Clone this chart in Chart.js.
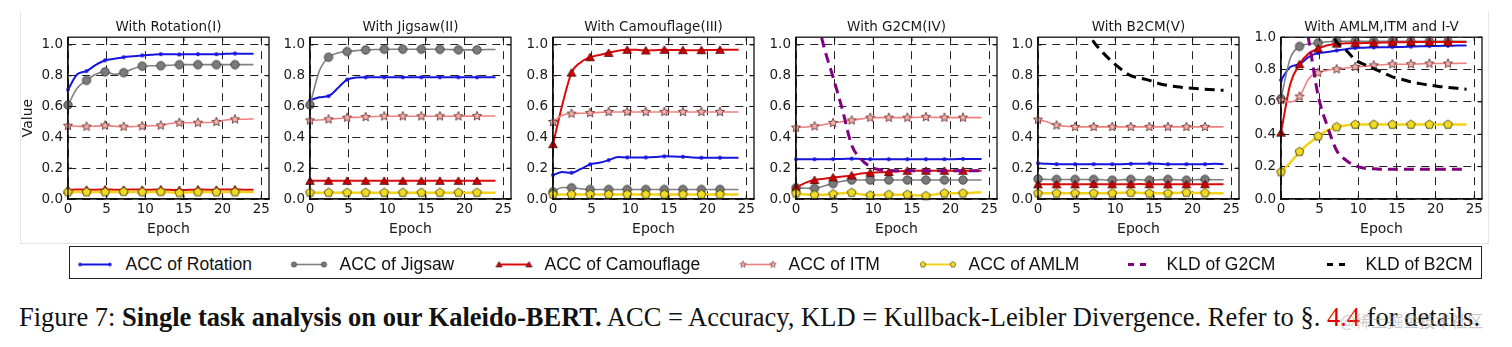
<!DOCTYPE html>
<html>
<head>
<meta charset="utf-8">
<script src="https://cdn.jsdelivr.net/npm/chart.js@4.4.0/dist/chart.umd.min.js"></script>
<style>
  html, body { margin: 0; padding: 0; background: #fff; }
  body { width: 1512px; height: 347px; position: relative; overflow: hidden; }
  .panel { position: absolute; top: 0; width: 297px; height: 240px; }
  #frame { position: absolute; left: 20px; top: 12px; width: 1467px; height: 231px;
           border-left: 1px solid #e6e6e6; border-right: 1px solid #e6e6e6; border-bottom: 1px solid #e6e6e6; }
  #legend { position: absolute; left: 69px; top: 246px; width: 1411px; height: 31px; border: 1.5px solid #222; }
  .lg-mark { position: absolute; top: 0; }
  .lg-text { position: absolute; top: 0; font: 17.5px "Liberation Sans", Arial, sans-serif; line-height: 35px; color: #111; white-space: nowrap; }
  #caption { position: absolute; left: 19px; top: 301px; font: 26.5px "Liberation Serif", "Times New Roman", serif; line-height: 32px; color: #111; white-space: nowrap; }
  #caption .ref { color: #e00000; }
  #mark { position: absolute; left: 1340px; top: 308px; font: 16px "Noto Sans CJK SC", sans-serif; line-height: 24px; color: rgba(160,160,160,0.55); white-space: nowrap; }
</style>
</head>
<body>
<div id="frame"></div>
<canvas id="c1" class="panel" width="297" height="240"></canvas>
<canvas id="c2" class="panel" width="297" height="240"></canvas>
<canvas id="c3" class="panel" width="297" height="240"></canvas>
<canvas id="c4" class="panel" width="297" height="240"></canvas>
<canvas id="c5" class="panel" width="297" height="240"></canvas>
<canvas id="c6" class="panel" width="297" height="240"></canvas>
<div id="legend"></div>
<div id="caption">Figure 7: <b>Single task analysis on our Kaleido-BERT.</b> ACC = Accuracy, KLD = Kullback-Leibler Divergence. Refer to §. <span class="ref">4.4</span> for details.</div>
<div id="mark">@稀土掘金技术社区</div>

<script>
const epochs = [0, 1.2, 2.4, 3.6, 4.8, 6, 7.2, 8.4, 9.6, 10.8, 12, 13.2, 14.4, 15.6, 16.8, 18, 19.2, 20.4, 21.6, 22.8, 24];
const xTicks = [0, 5, 10, 15, 20, 25];
const yTicks = [0, 0.2, 0.4, 0.6, 0.8, 1.0];

const titles = ['With Rotation(I)', 'With Jigsaw(II)', 'With Camouflage(III)', 'With G2CM(IV)', 'With B2CM(V)', 'With AMLM,ITM and I-V'];
const yMaxes = [1.05, 1.05, 1.05, 1.05, 1.05, 1.0];

// (I) Rotation
const p1Rotation   = [0.71, 0.81, 0.83, 0.87, 0.90, 0.91, 0.92, 0.926, 0.932, 0.936, 0.94, 0.94, 0.938, 0.94, 0.94, 0.94, 0.94, 0.942, 0.944, 0.942, 0.942];
const p1Jigsaw     = [0.61, 0.72, 0.77, 0.81, 0.825, 0.81, 0.82, 0.845, 0.862, 0.865, 0.865, 0.868, 0.872, 0.872, 0.872, 0.872, 0.872, 0.872, 0.872, 0.872, 0.872];
const p1Camouflage = [0.06, 0.062, 0.06, 0.06, 0.062, 0.06, 0.06, 0.062, 0.06, 0.06, 0.062, 0.06, 0.058, 0.06, 0.062, 0.06, 0.06, 0.062, 0.062, 0.06, 0.06];
const p1ITM        = [0.475, 0.472, 0.47, 0.473, 0.477, 0.472, 0.469, 0.47, 0.472, 0.475, 0.477, 0.49, 0.495, 0.495, 0.495, 0.496, 0.5, 0.513, 0.517, 0.518, 0.52];
const p1AMLM       = [0.045, 0.045, 0.045, 0.045, 0.045, 0.045, 0.047, 0.046, 0.045, 0.045, 0.047, 0.043, 0.04, 0.043, 0.045, 0.045, 0.045, 0.045, 0.045, 0.045, 0.045];

// (II) Jigsaw
const p2Rotation   = [0.64, 0.66, 0.668, 0.72, 0.775, 0.788, 0.79, 0.79, 0.79, 0.79, 0.79, 0.79, 0.79, 0.79, 0.79, 0.79, 0.79, 0.79, 0.79, 0.79, 0.79];
const p2Jigsaw     = [0.61, 0.83, 0.92, 0.948, 0.957, 0.963, 0.967, 0.97, 0.972, 0.972, 0.972, 0.972, 0.972, 0.972, 0.971, 0.97, 0.968, 0.968, 0.968, 0.97, 0.97];
const p2Camouflage = [0.118, 0.118, 0.118, 0.118, 0.118, 0.118, 0.118, 0.118, 0.118, 0.118, 0.118, 0.118, 0.118, 0.118, 0.118, 0.118, 0.118, 0.118, 0.118, 0.118, 0.118];
const p2ITM        = [0.51, 0.513, 0.517, 0.522, 0.528, 0.53, 0.532, 0.535, 0.537, 0.537, 0.537, 0.537, 0.537, 0.537, 0.537, 0.537, 0.537, 0.538, 0.538, 0.539, 0.539];
const p2AMLM       = [0.041, 0.041, 0.041, 0.041, 0.041, 0.041, 0.041, 0.041, 0.041, 0.041, 0.041, 0.041, 0.041, 0.041, 0.041, 0.041, 0.041, 0.041, 0.041, 0.041, 0.041];

// (III) Camouflage
const p3Rotation   = [0.155, 0.175, 0.17, 0.195, 0.225, 0.235, 0.252, 0.272, 0.27, 0.27, 0.27, 0.272, 0.277, 0.276, 0.274, 0.27, 0.268, 0.268, 0.268, 0.267, 0.267];
const p3Jigsaw     = [0.047, 0.075, 0.073, 0.066, 0.062, 0.062, 0.062, 0.062, 0.062, 0.062, 0.062, 0.062, 0.062, 0.062, 0.062, 0.062, 0.062, 0.062, 0.062, 0.062, 0.062];
const p3Camouflage = [0.356, 0.61, 0.82, 0.888, 0.92, 0.935, 0.948, 0.962, 0.968, 0.968, 0.964, 0.966, 0.968, 0.967, 0.966, 0.966, 0.966, 0.967, 0.968, 0.968, 0.968];
const p3ITM        = [0.50, 0.543, 0.554, 0.556, 0.558, 0.562, 0.565, 0.565, 0.565, 0.565, 0.565, 0.565, 0.565, 0.565, 0.565, 0.565, 0.565, 0.565, 0.565, 0.565, 0.565];
const p3AMLM       = [0.03, 0.03, 0.03, 0.03, 0.03, 0.03, 0.03, 0.03, 0.03, 0.03, 0.03, 0.03, 0.03, 0.03, 0.03, 0.03, 0.03, 0.03, 0.03, 0.03, 0.03];

// (IV) G2CM
const p4Rotation   = [0.258, 0.258, 0.258, 0.258, 0.259, 0.26, 0.262, 0.26, 0.258, 0.258, 0.258, 0.258, 0.258, 0.258, 0.258, 0.258, 0.258, 0.258, 0.26, 0.26, 0.26];
const p4Jigsaw     = [0.073, 0.07, 0.069, 0.085, 0.10, 0.115, 0.123, 0.123, 0.123, 0.123, 0.123, 0.123, 0.123, 0.123, 0.123, 0.123, 0.123, 0.123, 0.123, 0.123, 0.123];
const p4Camouflage = [0.075, 0.105, 0.123, 0.132, 0.14, 0.146, 0.153, 0.166, 0.17, 0.173, 0.175, 0.18, 0.183, 0.183, 0.183, 0.183, 0.183, 0.183, 0.183, 0.183, 0.183];
const p4ITM        = [0.463, 0.467, 0.472, 0.483, 0.494, 0.502, 0.51, 0.52, 0.528, 0.528, 0.528, 0.528, 0.528, 0.53, 0.532, 0.53, 0.528, 0.528, 0.528, 0.528, 0.528];
const p4AMLM       = [0.037, 0.03, 0.026, 0.028, 0.032, 0.037, 0.041, 0.03, 0.024, 0.026, 0.028, 0.028, 0.028, 0.024, 0.02, 0.03, 0.037, 0.037, 0.037, 0.04, 0.043];
const p4KldG2CM    = [null, null, 1.25, 0.99, 0.79, 0.58, 0.35, 0.26, 0.21, 0.19, 0.185, 0.183, 0.183, 0.183, 0.183, 0.183, 0.183, 0.183, 0.183, 0.183, 0.183];

// (V) B2CM
const p5Rotation   = [0.232, 0.228, 0.226, 0.226, 0.226, 0.226, 0.226, 0.226, 0.226, 0.226, 0.228, 0.228, 0.23, 0.228, 0.226, 0.226, 0.226, 0.226, 0.226, 0.228, 0.226];
const p5Jigsaw     = [0.13, 0.127, 0.127, 0.127, 0.127, 0.127, 0.127, 0.125, 0.122, 0.125, 0.127, 0.125, 0.122, 0.125, 0.127, 0.125, 0.122, 0.125, 0.127, 0.125, 0.125];
const p5Camouflage = [0.095, 0.095, 0.095, 0.095, 0.095, 0.096, 0.097, 0.096, 0.095, 0.095, 0.096, 0.097, 0.096, 0.095, 0.095, 0.095, 0.095, 0.095, 0.096, 0.095, 0.095];
const p5ITM        = [0.515, 0.50, 0.478, 0.472, 0.468, 0.468, 0.468, 0.468, 0.468, 0.468, 0.468, 0.468, 0.468, 0.468, 0.468, 0.468, 0.468, 0.468, 0.468, 0.468, 0.468];
const p5AMLM       = [0.037, 0.037, 0.037, 0.037, 0.037, 0.037, 0.037, 0.037, 0.037, 0.04, 0.041, 0.039, 0.037, 0.037, 0.037, 0.039, 0.041, 0.039, 0.039, 0.037, 0.037];
const p5KldB2CM    = [null, null, null, null, null, 1.12, 1.02, 0.95, 0.89, 0.84, 0.80, 0.785, 0.77, 0.75, 0.737, 0.728, 0.722, 0.717, 0.713, 0.709, 0.705];

// (VI) AMLM, ITM and I-V
const p6Rotation   = [0.735, 0.816, 0.833, 0.878, 0.902, 0.908, 0.918, 0.926, 0.933, 0.935, 0.937, 0.938, 0.939, 0.94, 0.942, 0.944, 0.945, 0.946, 0.947, 0.948, 0.949];
const p6Jigsaw     = [0.62, 0.87, 0.943, 0.958, 0.965, 0.972, 0.975, 0.975, 0.975, 0.975, 0.975, 0.975, 0.975, 0.975, 0.975, 0.975, 0.975, 0.975, 0.975, 0.975, 0.975];
const p6Camouflage = [0.41, 0.71, 0.833, 0.9, 0.93, 0.95, 0.96, 0.962, 0.963, 0.964, 0.965, 0.967, 0.968, 0.969, 0.97, 0.97, 0.97, 0.97, 0.97, 0.97, 0.97];
const p6ITM        = [0.612, 0.60, 0.633, 0.745, 0.78, 0.796, 0.802, 0.81, 0.816, 0.82, 0.826, 0.83, 0.833, 0.833, 0.833, 0.835, 0.837, 0.837, 0.837, 0.838, 0.84];
const p6AMLM       = [0.167, 0.225, 0.292, 0.343, 0.388, 0.424, 0.445, 0.455, 0.46, 0.46, 0.46, 0.46, 0.46, 0.46, 0.46, 0.46, 0.46, 0.46, 0.46, 0.46, 0.46];
const p6KldG2CM    = [null, null, 1.3, 0.98, 0.64, 0.45, 0.30, 0.24, 0.205, 0.19, 0.187, 0.184, 0.184, 0.184, 0.184, 0.184, 0.184, 0.184, 0.184, 0.184, 0.184];
const p6KldB2CM    = [null, null, null, null, null, 1.08, 0.97, 0.92, 0.86, 0.83, 0.806, 0.78, 0.755, 0.74, 0.724, 0.713, 0.704, 0.696, 0.69, 0.684, 0.678];

// ---- marker glyphs (matplotlib-ish) ----
function makeMarker(kind, r, fill, stroke, lw) {
  const s = Math.ceil(2 * r + 2 * lw + 2);
  const c = document.createElement('canvas');
  c.width = s; c.height = s;
  const g = c.getContext('2d');
  const cx = s / 2, cy = s / 2;
  g.beginPath();
  if (kind === 'circle') {
    g.arc(cx, cy, r, 0, Math.PI * 2);
  } else {
    const n = kind === 'star' ? 10 : kind === 'pentagon' ? 5 : 3;
    for (let i = 0; i < n; i++) {
      const a = -Math.PI / 2 + i * 2 * Math.PI / n;
      const rr = (kind === 'star' && i % 2) ? r * 0.45 : r;
      g.lineTo(cx + rr * Math.cos(a), cy + rr * Math.sin(a) + (kind === 'triangle' ? r * 0.2 : 0));
    }
    g.closePath();
  }
  g.fillStyle = fill; g.fill();
  if (lw) { g.lineWidth = lw; g.strokeStyle = stroke; g.stroke(); }
  return c;
}

const STYLE = {
  rot: { label: 'ACC of Rotation',   color: '#1515dd', width: 2,   img: makeMarker('circle', 1.9, '#1515dd', '#1515dd', 0),   lg: makeMarker('circle', 1.8, '#1515dd', '#1515dd', 0) },
  jig: { label: 'ACC of Jigsaw',     color: '#808080', width: 1.6, img: makeMarker('circle', 4.2, '#7b7b7b', '#333', 0.8),     lg: makeMarker('circle', 2.6, '#7b7b7b', '#333', 0.7) },
  cam: { label: 'ACC of Camouflage', color: '#dd0a0a', width: 2,   img: makeMarker('triangle', 5, '#d00000', '#4a0000', 0.8),  lg: makeMarker('triangle', 3.6, '#c01020', '#4a0000', 0.6) },
  itm: { label: 'ACC of ITM',        color: '#f08080', width: 1.6, img: makeMarker('star', 4.8, '#f3b2ac', '#5a2525', 0.8),    lg: makeMarker('star', 3.4, '#f3b2ac', '#5a2525', 0.6) },
  aml: { label: 'ACC of AMLM',       color: '#f2d21a', width: 2.5, img: makeMarker('pentagon', 4.6, '#f0dc22', '#3a3000', 0.8), lg: makeMarker('pentagon', 3, '#f0dc22', '#3a3000', 0.6) },
  g2c: { label: 'KLD of G2CM',       color: '#800080', width: 3,   dash: [10, 6] },
  b2c: { label: 'KLD of B2CM',       color: '#000000', width: 3,   dash: [10, 6] },
};
const ORDER = ['rot', 'jig', 'cam', 'itm', 'aml', 'g2c', 'b2c'];

const panelSeries = [
  { rot: p1Rotation, jig: p1Jigsaw, cam: p1Camouflage, itm: p1ITM, aml: p1AMLM },
  { rot: p2Rotation, jig: p2Jigsaw, cam: p2Camouflage, itm: p2ITM, aml: p2AMLM },
  { rot: p3Rotation, jig: p3Jigsaw, cam: p3Camouflage, itm: p3ITM, aml: p3AMLM },
  { rot: p4Rotation, jig: p4Jigsaw, cam: p4Camouflage, itm: p4ITM, aml: p4AMLM, g2c: p4KldG2CM },
  { rot: p5Rotation, jig: p5Jigsaw, cam: p5Camouflage, itm: p5ITM, aml: p5AMLM, b2c: p5KldB2CM },
  { rot: p6Rotation, jig: p6Jigsaw, cam: p6Camouflage, itm: p6ITM, aml: p6AMLM, g2c: p6KldG2CM, b2c: p6KldB2CM },
];

// layout
const plotLefts = [68, 310, 553, 796, 1038, 1281];
const AXW = 48;

// box + inward ticks on all sides, drawn over the lines like matplotlib spines
const framePlugin = {
  id: 'frame',
  afterDatasetsDraw(chart) {
    const { ctx, chartArea: a, scales } = chart;
    ctx.save();
    ctx.strokeStyle = '#111';
    ctx.lineWidth = 1;
    ctx.beginPath();
    xTicks.forEach(v => {
      const x = scales.x.getPixelForValue(v);
      ctx.moveTo(x, a.bottom); ctx.lineTo(x, a.bottom - 4);
      ctx.moveTo(x, a.top); ctx.lineTo(x, a.top + 4);
    });
    yTicks.forEach(v => {
      const y = scales.y.getPixelForValue(v);
      ctx.moveTo(a.left, y); ctx.lineTo(a.left + 4, y);
      ctx.moveTo(a.right, y); ctx.lineTo(a.right - 4, y);
    });
    ctx.stroke();
    ctx.lineWidth = 1.3;
    ctx.strokeRect(a.left, a.top, a.right - a.left, a.bottom - a.top);
    ctx.restore();
  }
};

const tickFont = { family: 'DejaVu Sans', size: 13.5 };
const gridOpts = { color: '#222', lineWidth: 1, drawTicks: false };
const borderOpts = { display: true, color: '#111', width: 1.3, dash: [8, 6] };

function makeDataset(key, values, idx) {
  const st = STYLE[key];
  return {
    label: st.label,
    data: values.map((v, i) => ({ x: epochs[i], y: v })),
    borderColor: st.color,
    backgroundColor: st.color,
    borderWidth: st.width,
    borderDash: st.dash || [],
    borderCapStyle: 'butt',
    fill: false,
    cubicInterpolationMode: 'monotone',
    pointStyle: st.img || 'circle',
    pointRadius: c => (st.img && c.dataIndex % 2 === 0 && c.dataIndex < 20) ? 3 : 0,
    pointHoverRadius: 0,
    clip: st.dash ? 0 : false,
    order: 20 - idx,
  };
}

panelSeries.forEach((series, p) => {
  const cv = document.getElementById('c' + (p + 1));
  cv.style.left = (plotLefts[p] - AXW) + 'px';
  const datasets = ORDER.filter(k => series[k]).map(k => makeDataset(k, series[k], ORDER.indexOf(k)));
  new Chart(cv.getContext('2d'), {
    type: 'line',
    data: { datasets },
    plugins: [framePlugin],
    options: {
      responsive: false, animation: false, events: [], devicePixelRatio: 1,
      layout: { padding: { left: 0, right: AXW, top: 0, bottom: 0 } },
      plugins: {
        legend: { display: false },
        tooltip: { enabled: false },
        title: {
          display: true, text: titles[p], fullSize: false, color: '#1a1a1a',
          font: { family: 'DejaVu Sans', size: 13.5, weight: 'normal' },
          padding: { top: 19, bottom: 2 }
        }
      },
      scales: {
        x: {
          type: 'linear', min: 0, max: 26,
          afterFit: s => { s.height = 41; },
          ticks: { stepSize: 5, includeBounds: false, padding: 2, color: '#1a1a1a', font: tickFont, maxRotation: 0, autoSkip: false },
          grid: gridOpts, border: borderOpts,
          title: { display: true, text: 'Epoch', color: '#1a1a1a', font: { family: 'DejaVu Sans', size: 14 }, padding: { top: 0, bottom: 2.5 } }
        },
        y: {
          min: 0, max: yMaxes[p],
          afterFit: s => { s.width = AXW; },
          ticks: { stepSize: 0.2, includeBounds: false, padding: 5, color: '#1a1a1a', font: tickFont, callback: v => v.toFixed(1) },
          grid: gridOpts, border: borderOpts,
          title: { display: p === 0, text: 'Value', color: '#1a1a1a', font: { family: 'DejaVu Sans', size: 14 }, padding: { top: 0, bottom: 0 } }
        }
      }
    }
  });
});

// ---- legend strip ----
const legendPos = [
  { key: 'rot', x0: 80,   tx: 126 },
  { key: 'jig', x0: 294,  tx: 340 },
  { key: 'cam', x0: 499,  tx: 545 },
  { key: 'itm', x0: 743,  tx: 789 },
  { key: 'aml', x0: 923,  tx: 969 },
  { key: 'g2c', x0: 1121, tx: 1167 },
  { key: 'b2c', x0: 1320, tx: 1366 },
];
const legend = document.getElementById('legend');
const LG_LEFT = 70.5, HANDLE = 30, MID = 17.5;
legendPos.forEach(it => {
  const st = STYLE[it.key];
  const c = document.createElement('canvas');
  c.width = HANDLE + 10; c.height = 35;
  c.className = 'lg-mark';
  c.style.left = (it.x0 - 5 - LG_LEFT) + 'px';
  const g = c.getContext('2d');
  g.strokeStyle = st.color;
  g.lineWidth = st.dash ? 3 : Math.min(st.width, 2);
  g.beginPath();
  if (st.dash) {
    g.moveTo(5 + 7, MID); g.lineTo(5 + 13, MID);
    g.moveTo(5 + 19, MID); g.lineTo(5 + 25, MID);
  } else {
    g.moveTo(5, MID); g.lineTo(5 + HANDLE, MID);
  }
  g.stroke();
  if (st.lg) {
    [5, 5 + HANDLE].forEach(x => g.drawImage(st.lg, x - st.lg.width / 2, MID - st.lg.height / 2));
  }
  legend.appendChild(c);
  const t = document.createElement('span');
  t.className = 'lg-text';
  t.style.left = (it.tx - LG_LEFT) + 'px';
  t.textContent = st.label;
  legend.appendChild(t);
});
</script>
</body>
</html>
